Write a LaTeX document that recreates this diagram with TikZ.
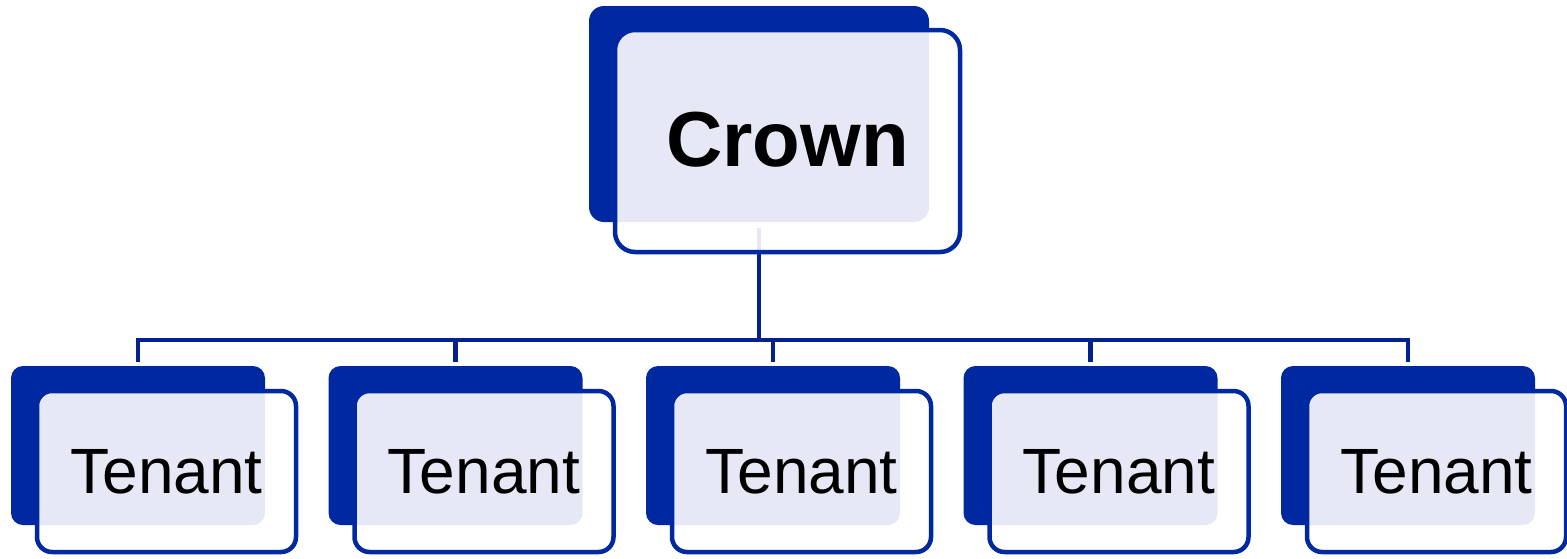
\documentclass[tikz,border=0pt]{standalone}
\usepackage{fontspec}
\setmainfont{Liberation Sans}
\definecolor{navy}{HTML}{0028A0}
\definecolor{wire}{HTML}{00218F}
\begin{document}
\begin{tikzpicture}[x=1pt,y=-1pt,
  backbox/.style={fill=navy, draw=none, rounded corners=#1, inner sep=0pt},
  frontbox/.style={draw=navy, line width=4.5pt, fill=white, fill opacity=0.9,
    text opacity=1, rounded corners=#1, inner sep=0pt},
  conn/.style={draw=wire, line width=4.5pt, line join=miter},
  crowntext/.style={font=\fontsize{78}{84}\selectfont\bfseries},
  tenanttext/.style={font=\fontsize{64}{70}\selectfont}]
\useasboundingbox (0,0) rectangle (1567,558);

% back plates
\node[backbox=15pt, minimum width=340pt, minimum height=216pt] (cb) at (759,114) {};
\foreach \i in {1,...,5}{
  \node[backbox=12pt, minimum width=254pt, minimum height=159pt] (tb\i)
    at ({138+317.5*(\i-1)},445.5) {};
}

% connectors
\coordinate (bus) at (759,340);
\foreach \i in {1,...,5}{
  \coordinate (k\i) at ([yshift=4pt]tb\i.north);
}
\draw[conn] ([yshift=-6pt]cb.south) -- (cb.south |- bus);
\draw[conn] (k1) -- (k1 |- bus) -- (k5 |- bus) -- (k5);
\foreach \i in {2,3,4}{
  \draw[conn] (k\i) -- (k\i |- bus);
}

% front cards with labels
\node[frontbox=20pt, minimum width=345pt, minimum height=222pt, crowntext]
  (crown) at (787.5,141) {\raisebox{3pt}{Crown}};
\foreach \i in {1,...,5}{
  \node[frontbox=15pt, minimum width=259pt, minimum height=161pt, tenanttext]
    (t\i) at ({166.5+317.5*(\i-1)},471.5) {Tenant};
}
\end{tikzpicture}
\end{document}
